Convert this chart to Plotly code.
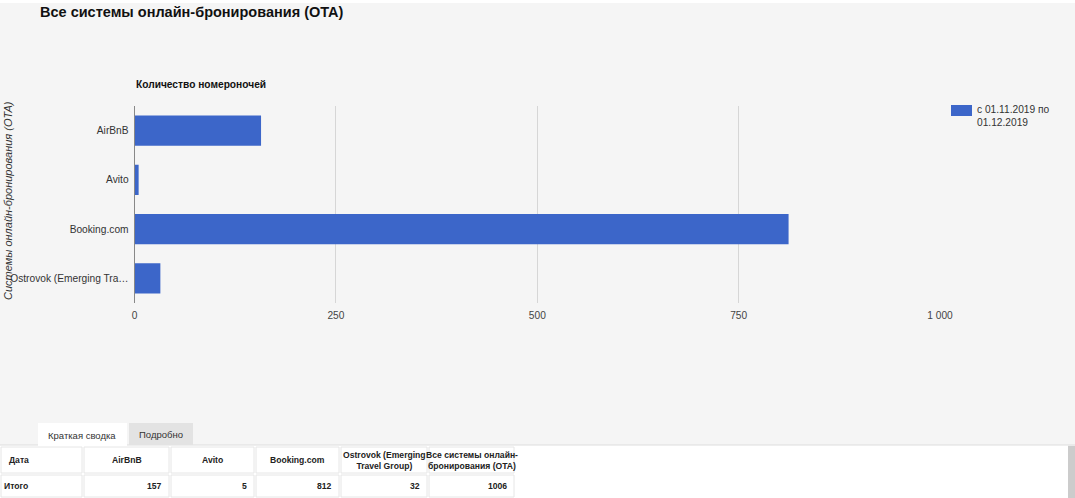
import plotly.graph_objects as go

# data
categories = ["AirBnB", "Avito", "Booking.com", "Ostrovok (Emerging Travel Group)"]
tick_labels = ["AirBnB", "Avito", "Booking.com", "Ostrovok (Emerging Tra…"]
nights = [157, 5, 812, 32]
series_name = "с 01.11.2019 по<br>01.12.2019"

table_header = ["Дата", "AirBnB", "Avito", "Booking.com",
                "Ostrovok (Emerging<br>Travel Group)", "Все системы онлайн-<br>бронирования (OTA)"]
table_row = ["Итого", "157", "5", "812", "32", "1006"]
col_edges = [0, 83, 170, 255, 340, 428, 515]

W, H = 1075, 498
BG = "#f5f5f5"
BLUE = "#3c66c9"
FONT = "Liberation Sans, Arial, sans-serif"


def px(x):
    return x / W


def py(y):
    return 1 - y / H


def rect(x0, y0, x1, y1, fill, line=None, layer="above"):
    return dict(type="rect", xref="paper", yref="paper",
                x0=px(x0), x1=px(x1), y0=py(y1), y1=py(y0),
                fillcolor=fill, line=line or dict(width=0), layer=layer)


fig = go.Figure()

fig.add_trace(go.Bar(
    x=nights, y=categories, orientation="h",
    marker=dict(color=BLUE, line=dict(width=0)),
    name=series_name, showlegend=False,
))

shapes = [
    rect(0, 0, W, 3, "white", layer="below"),
    rect(0, 445, 1068, H, "white"),
    rect(1068, 446, W, H, "#cccccc"),
    dict(type="line", xref="paper", yref="paper", x0=0, x1=1, y0=py(445), y1=py(445),
         line=dict(color="#dddddd", width=1)),
    # tabs
    rect(38, 423, 127, 446, "white"),
    rect(129, 423, 193, 445, "#e3e3e3"),
    # legend swatch
    rect(951, 105, 972, 116, BLUE),
]

annotations = [
    dict(text="<b>Все системы онлайн-бронирования (OTA)</b>", x=px(38), y=py(12),
         xanchor="left", yanchor="middle", font=dict(size=14.5, color="#111")),
    dict(text="<b>Количество номероночей</b>", x=px(134), y=py(84),
         xanchor="left", yanchor="middle", font=dict(size=10.2, color="#111")),
    dict(text="<i>Системы онлайн-бронирования (OTA)</i>", x=px(8), y=py(201),
         textangle=-90, xanchor="center", yanchor="middle", font=dict(size=11, color="#333")),
    dict(text="Краткая сводка", x=px(82), y=py(435), xanchor="center", yanchor="middle",
         font=dict(size=9.5, color="#333")),
    dict(text="Подробно", x=px(161), y=py(434), xanchor="center", yanchor="middle",
         font=dict(size=9.5, color="#333")),
    dict(text=series_name, x=px(975), y=py(102), xanchor="left", yanchor="top", align="left",
         font=dict(size=10.2, color="#333")),
]

# summary table
cell_line = dict(color="#e6e6e6", width=1)
for i in range(len(table_header)):
    x0, x1 = col_edges[i], col_edges[i + 1]
    shapes.append(rect(x0 + 1, 447, x1 - 1, 473, "white", cell_line))
    shapes.append(rect(x0 + 1, 475, x1 - 1, 497, "white", cell_line))
    if i == 0:
        annotations.append(dict(text="<b>%s</b>" % table_header[i], x=px(x0 + 7), y=py(460),
                                xanchor="left", yanchor="middle"))
        annotations.append(dict(text="<b>%s</b>" % table_row[i], x=px(x0 + 2), y=py(486),
                                xanchor="left", yanchor="middle"))
    else:
        annotations.append(dict(text="<b>%s</b>" % table_header[i], x=px((x0 + x1) / 2), y=py(460),
                                xanchor="center", yanchor="middle"))
        annotations.append(dict(text="<b>%s</b>" % table_row[i], x=px(x1 - 6), y=py(486),
                                xanchor="right", yanchor="middle"))
    for a in annotations[-2:]:
        a["font"] = dict(size=8.6, color="#222")

for a in annotations:
    a.update(xref="paper", yref="paper", showarrow=False)

fig.update_layout(
    width=W, height=H,
    margin=dict(l=0, r=0, t=0, b=0, autoexpand=False),
    paper_bgcolor=BG, plot_bgcolor=BG,
    font=dict(family=FONT, size=10, color="#333"),
    separators=", ",
    bargap=0.39,
    shapes=shapes, annotations=annotations,
    xaxis=dict(domain=[px(134.6), px(940)], range=[0, 1000], tickvals=[0, 250, 500, 750, 1000],
               separatethousands=True, automargin=False,
               showgrid=True, gridcolor="#d6d6d6", zeroline=False, showline=False,
               tickfont=dict(size=10.2, color="#444"), ticks="", ticklabelstandoff=5,
               anchor="y", fixedrange=True),
    yaxis=dict(domain=[py(303), py(106)], autorange="reversed", automargin=False,
               tickvals=categories, ticktext=tick_labels, showgrid=False,
               showline=True, linecolor="#888", linewidth=1,
               tickfont=dict(size=10.2, color="#333"), ticks="", ticklabelstandoff=3,
               fixedrange=True),
)

fig.write_html(
    "out.html",
    config=dict(displayModeBar=False, responsive=False),
    post_script=("document.documentElement.style.overflow='hidden';"
                 "document.body.style.overflow='hidden';"
                 "document.body.style.margin='0';"),
)
